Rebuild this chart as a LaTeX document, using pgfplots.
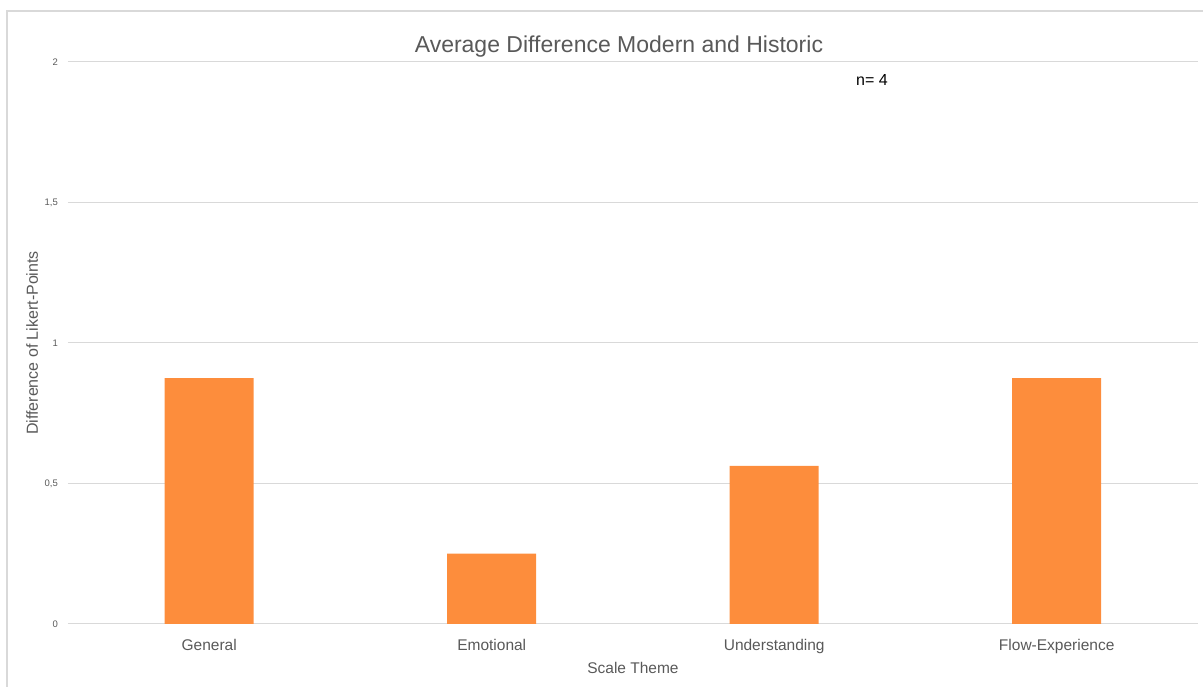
\documentclass[border=0pt]{standalone}
\usepackage{pgfplots}
\pgfplotsset{compat=1.18}
\usepackage{fontspec}
\setmainfont{Liberation Sans}
\definecolor{barorange}{RGB}{253,141,60}
\definecolor{gridgray}{RGB}{217,217,217}
\definecolor{txtgray}{RGB}{89,89,89}
\begin{document}
\begin{tikzpicture}[x=1pt,y=1pt]
\path[use as bounding box] (0,0) rectangle (1203,687);
% chart area frame
\draw[gridgray, line width=1.2pt] (7,-2) -- (7,676) -- (1205,676);
\begin{axis}[
  at={(68pt,63pt)}, anchor=south west,
  scale only axis, width=1130pt, height=562pt,
  xmin=-0.5, xmax=3.5, ymin=0, ymax=2,
  axis line style={draw=none},
  major tick length=0pt,
  ytick={0,0.5,1,1.5,2},
  ymajorgrids,
  grid style={gridgray, line width=1pt},
  /pgf/number format/use comma,
  /pgf/number format/assume math mode=true,
  xtick={0,1,2,3},
  xticklabels={General,Emotional,Understanding,Flow-Experience},
  xticklabel style={font=\fontsize{15.5}{18}\selectfont, text=txtgray, anchor=base, inner sep=0pt, yshift=-27pt},
  yticklabel style={font=\fontsize{9.5}{11}\selectfont, text=txtgray, anchor=east, inner sep=0pt, xshift=-10pt},
  title={Average Difference Modern and Historic},
  title style={font=\fontsize{23}{27}\selectfont, text=txtgray, at={(rel axis cs:0.4876,1)}, anchor=base, inner sep=0pt, yshift=3pt},
  xlabel={Scale Theme},
  xlabel style={font=\fontsize{15.5}{18}\selectfont, text=txtgray, at={(rel axis cs:0.5,0)}, anchor=base, inner sep=0pt, yshift=-50pt},
  ylabel={Difference of Likert-Points},
  ylabel style={font=\fontsize{16}{19}\selectfont, text=txtgray, at={(rel axis cs:0,0.5)}, anchor=base, inner sep=0pt, yshift=30pt},
  clip=false,
]
\addplot[ybar, bar width=89pt, fill=barorange, draw=none]
  coordinates {(0,0.875) (1,0.25) (2,0.5625) (3,0.875)};
\node[anchor=base west, inner sep=0pt, font=\fontsize{16}{19}\selectfont, text=black]
  at (rel axis cs:0.6973,0.9573) {n= 4};
\end{axis}
\end{tikzpicture}
\end{document}
